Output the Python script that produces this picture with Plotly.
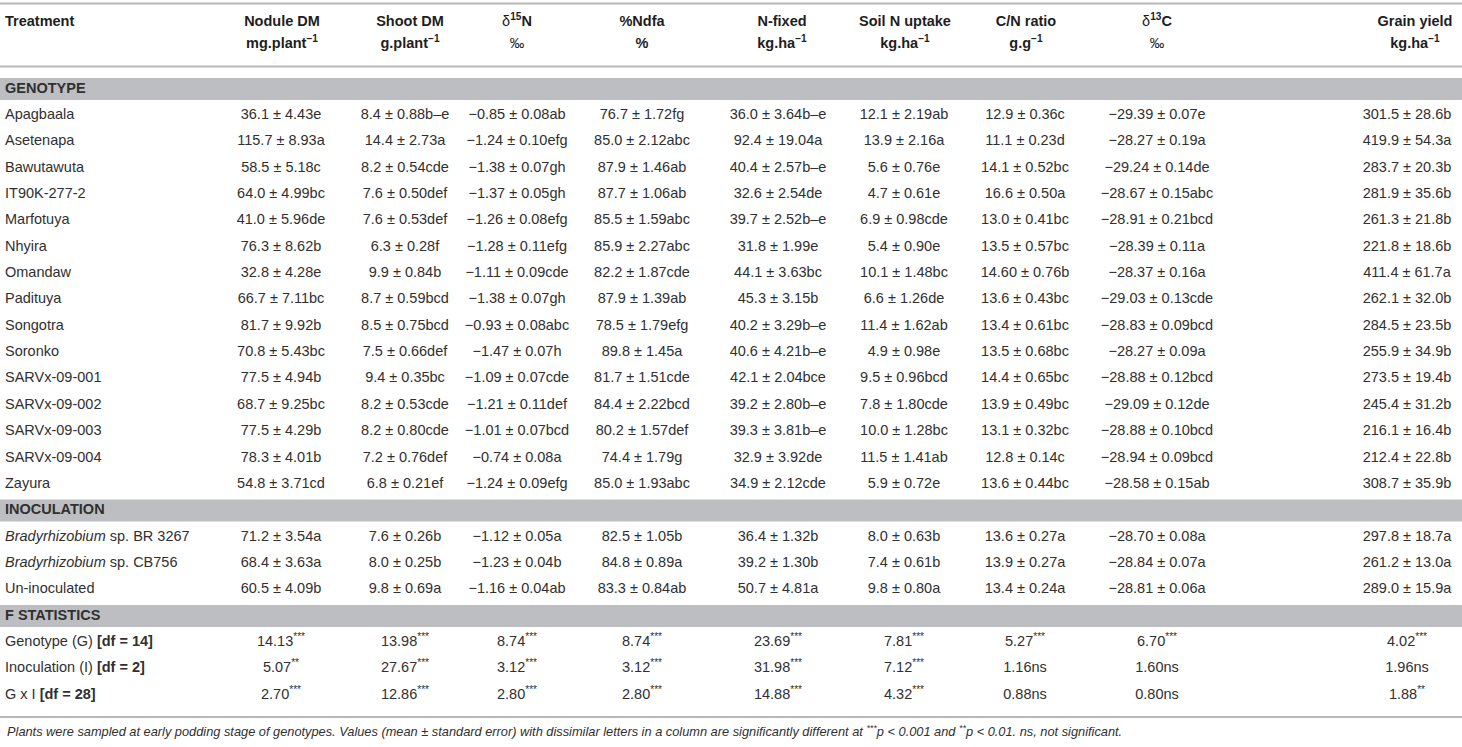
import plotly.graph_objects as go

genotypes = ["Apagbaala", "Asetenapa", "Bawutawuta", "IT90K-277-2", "Marfotuya", "Nhyira",
             "Omandaw", "Padituya", "Songotra", "Soronko", "SARVx-09-001", "SARVx-09-002",
             "SARVx-09-003", "SARVx-09-004", "Zayura"]
inoculants = ["<i>Bradyrhizobium</i> sp. BR 3267", "<i>Bradyrhizobium</i> sp. CB756", "Un-inoculated"]
f_sources = ["Genotype (G) <b>[df = 14]</b>", "Inoculation (I) <b>[df = 2]</b>", "G x I <b>[df = 28]</b>"]
sections = ["GENOTYPE", "INOCULATION", "F STATISTICS"]

col_titles = ["Nodule DM", "Shoot DM", "δ<b><sup>15</sup>N</b>", "%Ndfa", "N-fixed",
              "Soil N uptake", "C/N ratio", "δ<b><sup>13</sup>C</b>", "Grain yield"]
col_units = ["mg.plant<sup>−1</sup>", "g.plant<sup>−1</sup>", "‰", "%", "kg.ha<sup>−1</sup>",
             "kg.ha<sup>−1</sup>", "g.g<sup>−1</sup>", "‰", "kg.ha<sup>−1</sup>"]

nodule_dm = ["36.1 ± 4.43e", "115.7 ± 8.93a", "58.5 ± 5.18c", "64.0 ± 4.99bc", "41.0 ± 5.96de",
             "76.3 ± 8.62b", "32.8 ± 4.28e", "66.7 ± 7.11bc", "81.7 ± 9.92b", "70.8 ± 5.43bc",
             "77.5 ± 4.94b", "68.7 ± 9.25bc", "77.5 ± 4.29b", "78.3 ± 4.01b", "54.8 ± 3.71cd"]
shoot_dm = ["8.4 ± 0.88b–e", "14.4 ± 2.73a", "8.2 ± 0.54cde", "7.6 ± 0.50def", "7.6 ± 0.53def",
            "6.3 ± 0.28f", "9.9 ± 0.84b", "8.7 ± 0.59bcd", "8.5 ± 0.75bcd", "7.5 ± 0.66def",
            "9.4 ± 0.35bc", "8.2 ± 0.53cde", "8.2 ± 0.80cde", "7.2 ± 0.76def", "6.8 ± 0.21ef"]
d15n = ["−0.85 ± 0.08ab", "−1.24 ± 0.10efg", "−1.38 ± 0.07gh", "−1.37 ± 0.05gh", "−1.26 ± 0.08efg",
        "−1.28 ± 0.11efg", "−1.11 ± 0.09cde", "−1.38 ± 0.07gh", "−0.93 ± 0.08abc", "−1.47 ± 0.07h",
        "−1.09 ± 0.07cde", "−1.21 ± 0.11def", "−1.01 ± 0.07bcd", "−0.74 ± 0.08a", "−1.24 ± 0.09efg"]
ndfa = ["76.7 ± 1.72fg", "85.0 ± 2.12abc", "87.9 ± 1.46ab", "87.7 ± 1.06ab", "85.5 ± 1.59abc",
        "85.9 ± 2.27abc", "82.2 ± 1.87cde", "87.9 ± 1.39ab", "78.5 ± 1.79efg", "89.8 ± 1.45a",
        "81.7 ± 1.51cde", "84.4 ± 2.22bcd", "80.2 ± 1.57def", "74.4 ± 1.79g", "85.0 ± 1.93abc"]
n_fixed = ["36.0 ± 3.64b–e", "92.4 ± 19.04a", "40.4 ± 2.57b–e", "32.6 ± 2.54de", "39.7 ± 2.52b–e",
           "31.8 ± 1.99e", "44.1 ± 3.63bc", "45.3 ± 3.15b", "40.2 ± 3.29b–e", "40.6 ± 4.21b–e",
           "42.1 ± 2.04bce", "39.2 ± 2.80b–e", "39.3 ± 3.81b–e", "32.9 ± 3.92de", "34.9 ± 2.12cde"]
soil_n = ["12.1 ± 2.19ab", "13.9 ± 2.16a", "5.6 ± 0.76e", "4.7 ± 0.61e", "6.9 ± 0.98cde",
          "5.4 ± 0.90e", "10.1 ± 1.48bc", "6.6 ± 1.26de", "11.4 ± 1.62ab", "4.9 ± 0.98e",
          "9.5 ± 0.96bcd", "7.8 ± 1.80cde", "10.0 ± 1.28bc", "11.5 ± 1.41ab", "5.9 ± 0.72e"]
cn_ratio = ["12.9 ± 0.36c", "11.1 ± 0.23d", "14.1 ± 0.52bc", "16.6 ± 0.50a", "13.0 ± 0.41bc",
            "13.5 ± 0.57bc", "14.60 ± 0.76b", "13.6 ± 0.43bc", "13.4 ± 0.61bc", "13.5 ± 0.68bc",
            "14.4 ± 0.65bc", "13.9 ± 0.49bc", "13.1 ± 0.32bc", "12.8 ± 0.14c", "13.6 ± 0.44bc"]
d13c = ["−29.39 ± 0.07e", "−28.27 ± 0.19a", "−29.24 ± 0.14de", "−28.67 ± 0.15abc", "−28.91 ± 0.21bcd",
        "−28.39 ± 0.11a", "−28.37 ± 0.16a", "−29.03 ± 0.13cde", "−28.83 ± 0.09bcd", "−28.27 ± 0.09a",
        "−28.88 ± 0.12bcd", "−29.09 ± 0.12de", "−28.88 ± 0.10bcd", "−28.94 ± 0.09bcd", "−28.58 ± 0.15ab"]
grain_yield = ["301.5 ± 28.6b", "419.9 ± 54.3a", "283.7 ± 20.3b", "281.9 ± 35.6b", "261.3 ± 21.8b",
               "221.8 ± 18.6b", "411.4 ± 61.7a", "262.1 ± 32.0b", "284.5 ± 23.5b", "255.9 ± 34.9b",
               "273.5 ± 19.4b", "245.4 ± 31.2b", "216.1 ± 16.4b", "212.4 ± 22.8b", "308.7 ± 35.9b"]

inoc_values = [
    ["71.2 ± 3.54a", "68.4 ± 3.63a", "60.5 ± 4.09b"],
    ["7.6 ± 0.26b", "8.0 ± 0.25b", "9.8 ± 0.69a"],
    ["−1.12 ± 0.05a", "−1.23 ± 0.04b", "−1.16 ± 0.04ab"],
    ["82.5 ± 1.05b", "84.8 ± 0.89a", "83.3 ± 0.84ab"],
    ["36.4 ± 1.32b", "39.2 ± 1.30b", "50.7 ± 4.81a"],
    ["8.0 ± 0.63b", "7.4 ± 0.61b", "9.8 ± 0.80a"],
    ["13.6 ± 0.27a", "13.9 ± 0.27a", "13.4 ± 0.24a"],
    ["−28.70 ± 0.08a", "−28.84 ± 0.07a", "−28.81 ± 0.06a"],
    ["297.8 ± 18.7a", "261.2 ± 13.0a", "289.0 ± 15.9a"],
]

f_values = [
    ["14.13", "5.07", "2.70"], ["13.98", "27.67", "12.86"], ["8.74", "3.12", "2.80"],
    ["8.74", "3.12", "2.80"], ["23.69", "31.98", "14.88"], ["7.81", "7.12", "4.32"],
    ["5.27", "1.16", "0.88"], ["6.70", "1.60", "0.80"], ["4.02", "1.96", "1.88"],
]
f_signif = [
    ["***", "**", "***"], ["***", "***", "***"], ["***", "***", "***"],
    ["***", "***", "***"], ["***", "***", "***"], ["***", "***", "***"],
    ["***", "ns", "ns"], ["***", "ns", "ns"], ["***", "ns", "**"],
]

footnote = ("Plants were sampled at early podding stage of genotypes. Values (mean ± standard error) "
            "with dissimilar letters in a column are significantly different at <sup>***</sup>p < 0.001 "
            "and <sup>**</sup>p < 0.01. ns, not significant.")

genotype_values = [nodule_dm, shoot_dm, d15n, ndfa, n_fixed, soil_n, cn_ratio, d13c, grain_yield]

# ---- layout constants (pixels) ----
W, H = 1462, 747
PITCH = 26.35            # row pitch in px, one y unit = one table row
ROW0_PX = 89             # centre of the first (GENOTYPE) row
BAND = "#bdbec1"
RULE = "#b8b8b8"
TXT = "#303030"
HEAD = "#1e1e1e"
FONT = "Liberation Sans"
col_x = [5, 281, 405, 517, 642, 778, 904, 1025, 1157, 1407]
head_x = [5, 282, 410, 517, 642, 782, 905, 1026, 1157, 1415]


def px_to_row(px):
    return (px - ROW0_PX) / PITCH


def fmt_f(value, sig):
    # significance stars are superscript, "ns" stays on the baseline
    return value + sig if sig == "ns" else value + "<sup>" + sig + "</sup>"


# ---- assemble columns row by row (None = empty cell) ----
treatment_col = ["<b>" + sections[0] + "</b>"] + genotypes + ["<b>" + sections[1] + "</b>"] + \
                inoculants + ["<b>" + sections[2] + "</b>"] + f_sources
columns = [treatment_col]
for i in range(len(col_titles)):
    fcol = [fmt_f(v, s) for v, s in zip(f_values[i], f_signif[i])]
    columns.append([None] + genotype_values[i] + [None] + inoc_values[i] + [None] + fcol)

n_rows = len(treatment_col)
section_rows = [0, len(genotypes) + 1, len(genotypes) + len(inoculants) + 2]

fig = go.Figure()

# grey section bands
for r in section_rows:
    fig.add_shape(type="rect", xref="x", yref="y", x0=0, x1=W, y0=r - 0.418, y1=r + 0.418,
                  line_width=0, fillcolor=BAND, layer="below")

# horizontal rules
for y_px in (3.5, 66.5, 717):
    fig.add_shape(type="line", xref="x", yref="y", x0=0, x1=W,
                  y0=px_to_row(y_px), y1=px_to_row(y_px), line=dict(color=RULE, width=2))

# body cells, one text trace per column
for i, col in enumerate(columns):
    rows = [r for r in range(n_rows) if col[r] is not None]
    fig.add_trace(go.Scatter(
        x=[col_x[i]] * len(rows), y=rows, text=[col[r] for r in rows], mode="text",
        textposition="middle right" if i == 0 else "middle center",
        textfont=dict(family=FONT, size=14.5, color=TXT),
        cliponaxis=False, hoverinfo="skip", showlegend=False))

# header: title line and unit line
titles = ["<b>Treatment</b>"] + [t if t.startswith("δ") else "<b>" + t + "</b>" for t in col_titles]
units = [u if u == "‰" else "<b>" + u + "</b>" for u in col_units]
fig.add_trace(go.Scatter(
    x=head_x, y=[px_to_row(22)] * len(head_x), text=titles, mode="text",
    textposition=["middle right"] + ["middle center"] * len(col_titles),
    textfont=dict(family=FONT, size=14.5, color=HEAD),
    cliponaxis=False, hoverinfo="skip", showlegend=False))
fig.add_trace(go.Scatter(
    x=head_x[1:], y=[px_to_row(44.5)] * len(units), text=units, mode="text",
    textposition="middle center", textfont=dict(family=FONT, size=14.5, color=HEAD),
    cliponaxis=False, hoverinfo="skip", showlegend=False))

fig.add_annotation(text="<i>" + footnote + "</i>", xref="x", yref="y",
                   x=5, y=px_to_row(731), xanchor="left", yanchor="middle", showarrow=False,
                   font=dict(family=FONT, size=12.8, color=TXT))

fig.update_layout(
    width=W, height=H, margin=dict(l=0, r=0, t=0, b=0),
    paper_bgcolor="white", plot_bgcolor="white", hovermode=False,
    xaxis=dict(range=[0, W], visible=False, fixedrange=True),
    yaxis=dict(range=[px_to_row(H), px_to_row(0)], visible=False, fixedrange=True),
)

fig.write_html("out.html", config={"displayModeBar": False},
               post_script="document.body.style.margin = '0';")
